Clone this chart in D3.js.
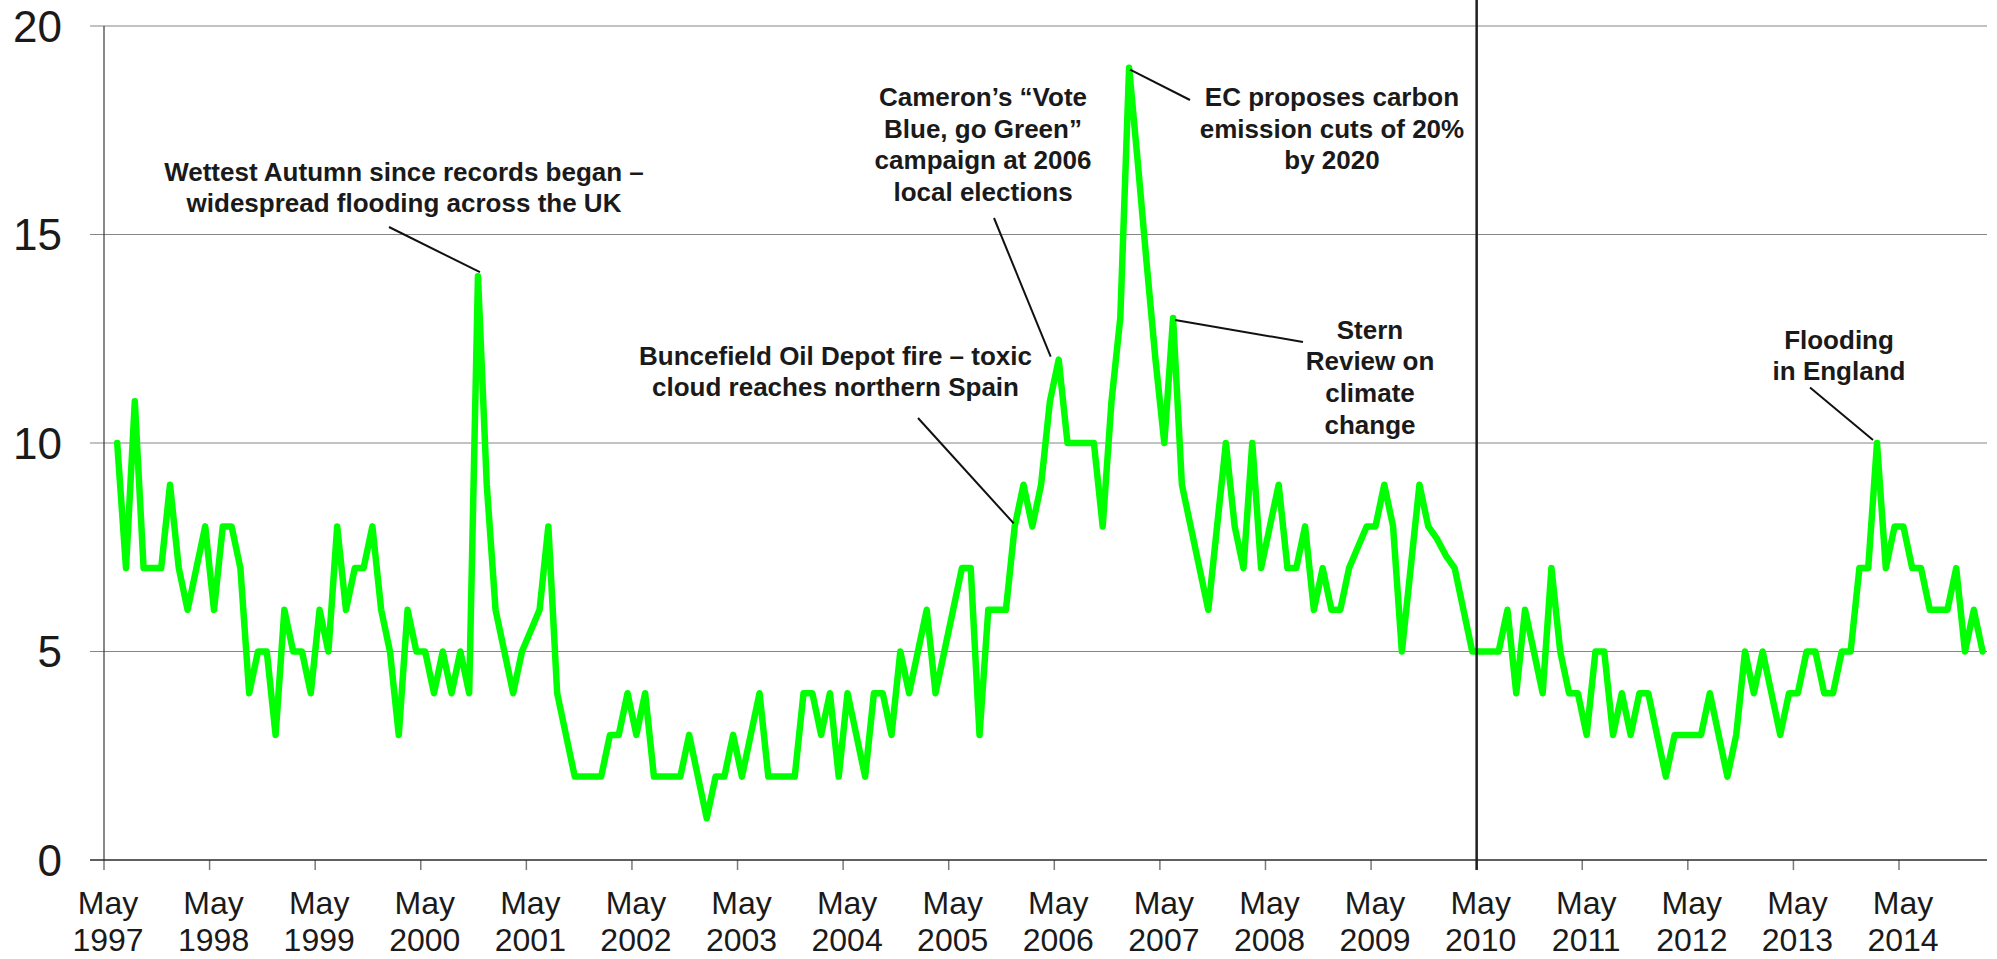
<!DOCTYPE html>
<html><head><meta charset="utf-8">
<script src="https://cdn.jsdelivr.net/npm/d3@7"></script>
<style>html,body{margin:0;padding:0;background:#fff;} svg{display:block;}</style>
</head><body>
<svg id="chart" width="1997" height="959"></svg>
<script>
// ---------- DATA ----------
// Monthly values, June 1997 .. February 2015
const values = [
  10, 7, 11, 7, 7, 7, 9, 7, 6, 7, 8, 6, 8, 8, 7, 4, 5, 5, 3, 6, 5, 5, 4, 6, 5, 8, 6, 7, 7, 8, 6, 5, 3, 6, 5, 5,
  4, 5, 4, 5, 4, 14, 9, 6, 5, 4, 5, 5.5, 6, 8, 4, 3, 2, 2, 2, 2, 3, 3, 4, 3, 4, 2, 2, 2, 2, 3, 2, 1, 2, 2, 3, 2, 3, 4,
  2, 2, 2, 2, 4, 4, 3, 4, 2, 4, 3, 2, 4, 4, 3, 5, 4, 5, 6, 4, 5, 6, 7, 7, 3, 6, 6, 6, 8, 9, 8, 9, 11, 12, 10, 10, 10,
  10, 8, 11, 13, 19, 16.7, 14.3, 12, 10, 13, 9, 8, 7, 6, 8, 10, 8, 7, 10, 7, 8, 9, 7, 7, 8, 6, 7, 6, 6, 7, 7.5, 8, 8, 9, 8, 5, 7, 9,
  8, 7.7, 7.3, 7, 6, 5, 5, 5, 5, 6, 4, 6, 5, 4, 7, 5, 4, 4, 3, 5, 5, 3, 4, 3, 4, 4, 3, 2, 3, 3, 3, 3, 4,
  3, 2, 3, 5, 4, 5, 4, 3, 4, 4, 5, 5, 4, 4, 5, 5, 7, 7, 10, 7, 8, 8, 7, 7, 6, 6, 6, 7, 5, 6, 5
];
const axisStart = "1997-05";   // first month slot on the axis
const axisEnd = "2015-02";     // last month slot on the axis
const yTicks = [0, 5, 10, 15, 20];
const tickYears = [1997, 1998, 1999, 2000, 2001, 2002, 2003, 2004, 2005, 2006, 2007, 2008, 2009, 2010, 2011, 2012, 2013, 2014];
const tickMonthName = "May";
const markerMonth = "2010-05";
const annotationMonths = ["2000-11", "2005-12", "2006-05", "2007-01", "2007-06", "2014-02"];
const annotationTexts = [
  ["Wettest Autumn since records began \u2013", "widespread flooding across the UK"],
  ["Buncefield Oil Depot fire \u2013 toxic", "cloud reaches northern Spain"],
  ["Cameron\u2019s \u201cVote", "Blue, go Green\u201d", "campaign at 2006", "local elections"],
  ["EC proposes carbon", "emission cuts of 20%", "by 2020"],
  ["Stern", "Review on", "climate", "change"],
  ["Flooding", "in England"]
];

// ---------- LAYOUT (positions / styles) ----------
const annLayout = [
  {cx: 404, y0: 180.5, from: [389, 227], off: [2, -4]},
  {cx: 835.5, y0: 364.5, from: [918, 418], off: [-1, -3]},
  {cx: 983, y0: 106, from: [994, 218], off: [-8, -3]},
  {cx: 1332, y0: 106, from: [1190, 100], off: [1, 2]},
  {cx: 1370, y0: 338.5, from: [1303, 342], off: [2, 2]},
  {cx: 1839, y0: 348.5, from: [1810, 387.5], off: [-4, -3]}
];
const lineH = 31.7;

const svg = d3.select("#chart");
const fmt = d3.utcFormat("%Y-%m");
const parse = d3.utcParse("%Y-%m");
const allMonths = d3.utcMonth.range(parse(axisStart), d3.utcMonth.offset(parse(axisEnd), 1)).map(fmt);
const dataMonths = allMonths.slice(1, 1 + values.length);
const data = dataMonths.map((m, i) => ({m, v: values[i]}));

const x = d3.scaleBand().domain(allMonths).range([104, 1987]).padding(0);
const y = d3.scaleLinear().domain([0, 20]).range([860, 26]);
const cx = m => x(m) + x.bandwidth() / 2;

// gridlines
svg.append("g").selectAll("line").data(yTicks.filter(t => t > 0)).join("line")
  .attr("x1", 90).attr("x2", 1987)
  .attr("y1", d => y(d)).attr("y2", d => y(d))
  .attr("stroke", "#868686").attr("stroke-width", 1.2);

// y axis line
svg.append("line").attr("x1", 104).attr("x2", 104).attr("y1", y(20)).attr("y2", y(0))
  .attr("stroke", "#3a3a3a").attr("stroke-width", 1.2);

// x ticks
svg.append("g").selectAll("line").data(tickYears).join("line")
  .attr("x1", d => x(d + "-05")).attr("x2", d => x(d + "-05"))
  .attr("y1", y(0)).attr("y2", y(0) + 10)
  .attr("stroke", "#7a7a7a").attr("stroke-width", 1.5);

// x axis line
svg.append("line").attr("x1", 90).attr("x2", 1987).attr("y1", y(0)).attr("y2", y(0))
  .attr("stroke", "#2a2a2a").attr("stroke-width", 1.4);

// y labels
svg.append("g").selectAll("text").data(yTicks).join("text")
  .attr("x", 62).attr("y", d => y(d)).attr("dy", "0.36em")
  .attr("text-anchor", "end")
  .attr("font-family", "'Liberation Sans', Arial, sans-serif").attr("font-size", 44)
  .attr("fill", "#1a1a1a").text(d => d);

// x labels
const xl = svg.append("g").selectAll("text").data(tickYears).join("text")
  .attr("text-anchor", "middle")
  .attr("font-family", "'Liberation Sans', Arial, sans-serif").attr("font-size", 32)
  .attr("fill", "#1a1a1a");
xl.append("tspan").attr("x", d => x(d + "-05") + 4).attr("y", 914).text(tickMonthName);
xl.append("tspan").attr("x", d => x(d + "-05") + 4).attr("y", 951).text(d => d);

// data line
svg.append("path").datum(data)
  .attr("fill", "none").attr("stroke", "#00ff00").attr("stroke-width", 6.5)
  .attr("stroke-linejoin", "round").attr("stroke-linecap", "round")
  .attr("d", d3.line().x(d => cx(d.m)).y(d => y(d.v)));

// marker line (May 2010)
svg.append("line").attr("x1", x(markerMonth)).attr("x2", x(markerMonth))
  .attr("y1", 0).attr("y2", y(0) + 10)
  .attr("stroke", "#1f1f1f").attr("stroke-width", 2.5);

// annotations
const valueOf = m => data.find(d => d.m === m).v;
annotationMonths.forEach((m, i) => {
  const L = annLayout[i];
  svg.append("line")
    .attr("x1", L.from[0]).attr("y1", L.from[1])
    .attr("x2", cx(m) + L.off[0]).attr("y2", y(valueOf(m)) + L.off[1])
    .attr("stroke", "#111").attr("stroke-width", 2);
  const t = svg.append("text").attr("text-anchor", "middle")
    .attr("font-family", "'Liberation Sans', Arial, sans-serif").attr("font-weight", "bold")
    .attr("font-size", 26).attr("fill", "#1a1a1a");
  annotationTexts[i].forEach((s, j) => {
    t.append("tspan").attr("x", L.cx).attr("y", L.y0 + j * lineH).text(s);
  });
});
</script>
</body></html>
